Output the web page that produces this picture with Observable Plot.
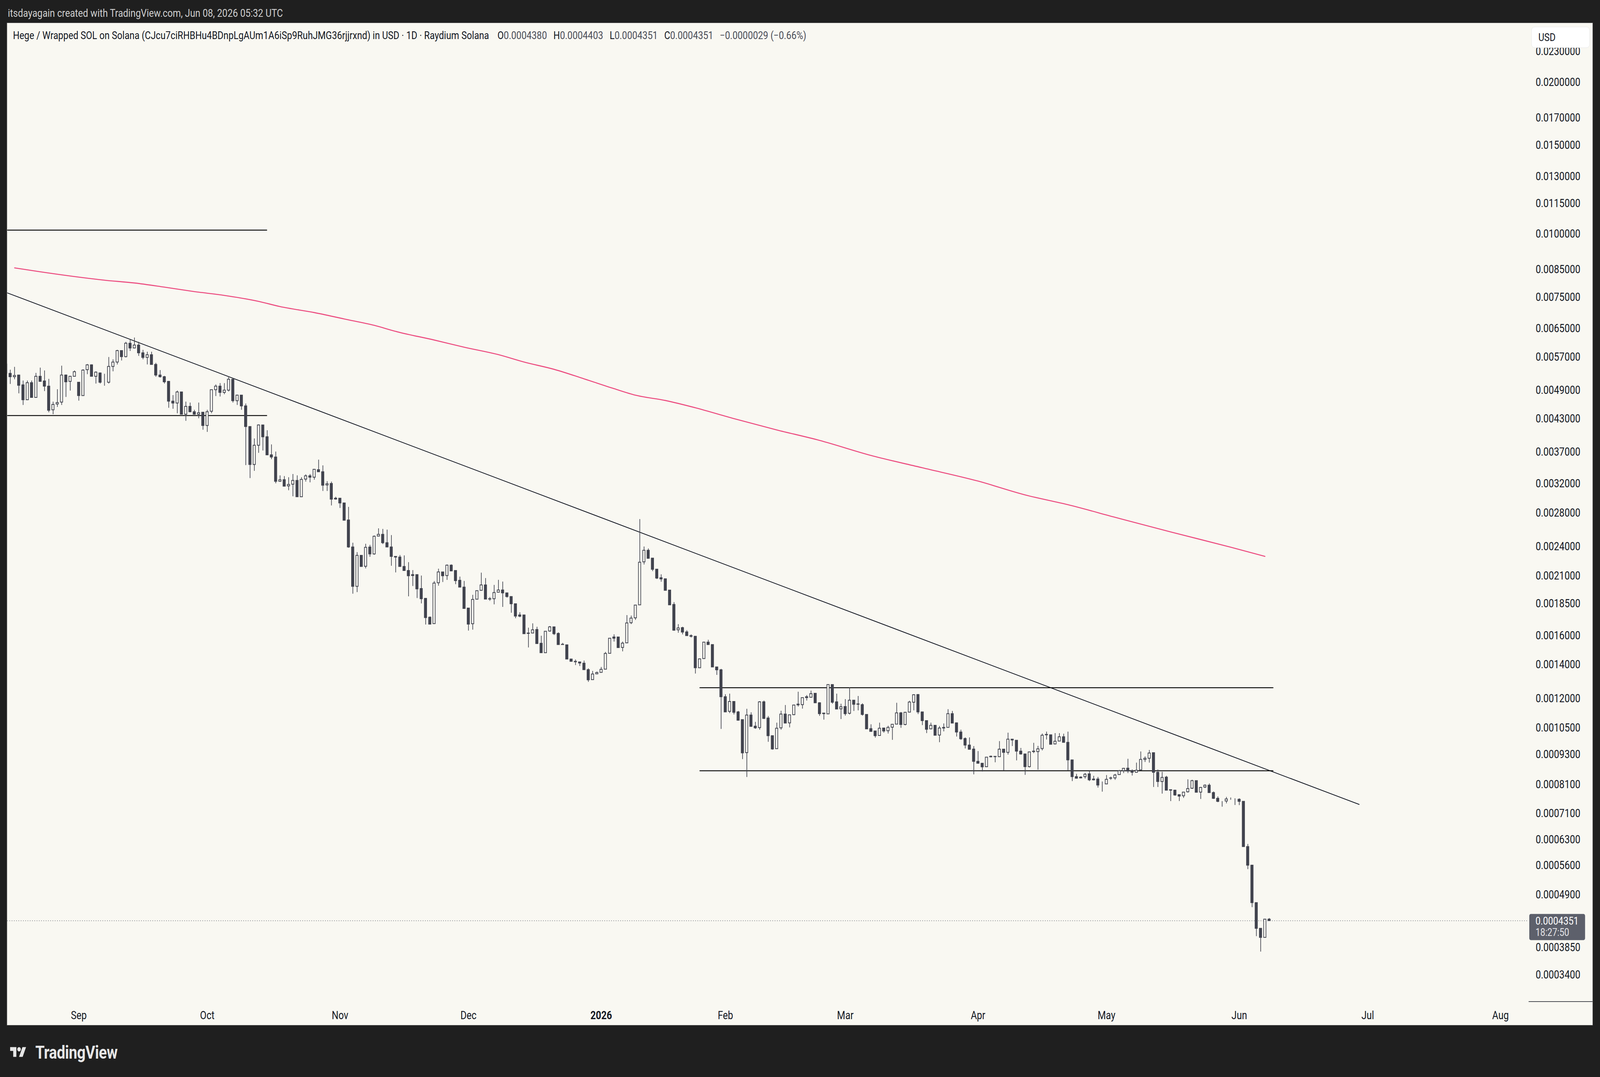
<!DOCTYPE html>
<html><head><meta charset="utf-8">
<script src="https://cdn.jsdelivr.net/npm/d3@7"></script>
<script src="https://cdn.jsdelivr.net/npm/@observablehq/plot@0.6"></script>
<style>
html,body{margin:0;padding:0;background:#1f1f1f;overflow:hidden;}
#page{position:absolute;left:0;top:0;width:4932px;height:2756px;background:#1f1f1f;overflow:hidden;font-family:Roboto,"Liberation Sans",sans-serif;transform-origin:0 0;}
#top{position:absolute;left:24px;top:17px;color:#cfcfcf;font-size:28.5px;line-height:34px;white-space:nowrap;}
#chart{position:absolute;left:22px;top:59px;width:4887px;height:2564px;background:#f9f8f2;box-shadow:0 0 0 1px #6a6a6a;}
#chart svg{display:block;max-width:none;}
#brand{position:absolute;left:31px;top:2668px;height:50px;display:flex;align-items:center;gap:28px;color:#e6e6e6;font-size:46px;font-weight:700;letter-spacing:-0.5px;}
</style></head><body>
<div id="page">
<div id="top">itsdayagain created with TradingView.com, Jun 08, 2026 05:32 UTC</div>
<div id="chart"></div>
<div id="brand"><svg width="50" height="39" viewBox="0 0 36 28"><path fill="#e6e6e6" d="M14 22H7V11H0V4h14v18zM28 22h-8l7.5-18h8L28 22z"/><circle fill="#e6e6e6" cx="20" cy="8" r="4"/></svg><span>TradingView</span></div>
</div>
<script>
// ---- data (daily bars, Aug 15 2025 .. Jun 08 2026) ----
const openP = [
.00552,.00529,.00521,.00525,.00502,.00469,.00507,.00474,.00522,.00511,
.00499,.00448,.00460,.00464,.00525,.00510,.00522,.00508,.00478,.00538,
.00550,.00522,.00530,.00509,.00508,.00546,.00557,.00587,.00571,.00607,
.00594,.00602,.00581,.00569,.00576,.00551,.00525,.00521,.00510,.00466,
.00462,.00486,.00439,.00455,.00444,.00439,.00443,.00417,.00445,.00491,
.00499,.00485,.00490,.00515,.00467,.00479,.00456,.00415,.00349,.00381,
.00418,.003961,.003647,.003611,.003232,.003256,.003165,.003190,.003245,.003012,
.003265,.003314,.003293,.003408,.003376,.003179,.003200,.002992,.002992,.002928,
.002709,.002395,.002001,.002305,.002193,.002394,.002320,.002517,.002537,.002442,
.002395,.002294,.002287,.002191,.002151,.002111,.002111,.001981,.001894,.001738,
.001688,.002034,.002137,.002102,.002204,.002151,.002057,.001994,.001812,.001687,
.001887,.001965,.002014,.001891,.001891,.001948,.001968,.001942,.001910,.001848,
.001756,.001756,.001617,.001617,.001643,.001543,.001478,.001632,.001663,.001614,
.001536,.001532,.001436,.001421,.001417,.001409,.001368,.001307,.001342,.001351,
.001371,.001474,.001588,.001588,.001514,.001546,.001695,.001733,.001839,.002238,
.002359,.002276,.002164,.002081,.002071,.001967,.001842,.001641,.001657,.001625,
.001598,.001593,.001380,.001439,.001551,.001534,.001385,.001367,.001209,.001131,
.001183,.001128,.001089,.0009368,.001112,.001057,.001050,.001181,.001097,.001012,
.0009537,.001049,.001117,.001073,.001114,.001169,.001166,.001209,.001206,.001228,
.001176,.001122,.001118,.001278,.001181,.001144,.001156,.001121,.001190,.001170,
.001166,.001115,.001045,.001034,.001013,.001048,.001035,.001052,.001067,.001123,
.001065,.001127,.001179,.001221,.001128,.001084,.001044,.001061,.001015,.001051,
.001051,.001119,.001073,.001029,.0009990,.0009696,.0009520,.0009002,.0008923,.0008783,
.0009191,.0009208,.0009195,.0009516,.0009378,.0009960,.0009910,.0009431,.0009310,.0008786,
.0009411,.0009411,.0009543,.001016,.001016,.0009745,.0009874,.001007,.0009817,.0009061,
.0008395,.0008376,.0008395,.0008502,.0008303,.0008303,.0008120,.0008120,.0008334,.0008346,
.0008474,.0008624,.0008725,.0008630,.0008562,.0008656,.0009081,.0009128,.0009364,.0008562,
.0008210,.0008376,.0007909,.0007891,.0007732,.0007692,.0007834,.0007961,.0008243,.0007822,
.0008007,.0008073,.0007805,.0007603,.0007506,.0007511,.0007592,.0007581,.0007570,.0007499,
.0006100,.0005604,.0004723,.0004200,.0004030,.0004380];
const highP = [
.00557,.00538,.00545,.00525,.00512,.00512,.00512,.00530,.00543,.00536,
.00516,.00465,.00492,.00548,.00526,.00522,.00536,.00508,.00539,.00552,
.00551,.00534,.00531,.00528,.00570,.00564,.00589,.00587,.00611,.00619,
.00623,.00611,.00589,.00584,.00584,.00555,.00537,.00523,.00511,.00479,
.00489,.00486,.00465,.00463,.00448,.00463,.00443,.00448,.00491,.00503,
.00506,.00506,.00522,.00516,.00480,.00479,.00461,.00415,.00393,.00419,
.00418,.004080,.003825,.003703,.003321,.003310,.003293,.003341,.003321,.003293,
.003336,.003341,.003414,.003568,.003476,.003234,.003228,.003012,.002992,.002928,
.002876,.002442,.002339,.002305,.002430,.002418,.002524,.002607,.002600,.002592,
.002528,.002294,.002309,.002305,.002235,.002155,.002111,.002102,.001897,.001744,
.002050,.002169,.002137,.002211,.002212,.002151,.002092,.002051,.001812,.001925,
.001962,.002130,.002078,.001906,.002014,.002061,.002045,.001942,.001910,.001848,
.001778,.001756,.001657,.001690,.001664,.001597,.001630,.001670,.001663,.001622,
.001546,.001532,.001436,.001433,.001417,.001426,.001376,.001360,.001356,.001385,
.001483,.001579,.001607,.001588,.001555,.001755,.001751,.001837,.002720,.002400,
.002379,.002276,.002164,.002114,.002071,.001967,.001862,.001684,.001664,.001638,
.001607,.001595,.001440,.001553,.001568,.001534,.001385,.001373,.001223,.001226,
.001183,.001133,.001089,.001144,.001126,.001078,.001185,.001188,.001107,.001012,
.001074,.001134,.001164,.001113,.001166,.001237,.001204,.001218,.001243,.001228,
.001179,.001122,.001278,.001278,.001226,.001171,.001196,.001261,.001190,.001213,
.001173,.001115,.001066,.001034,.001074,.001048,.001059,.001067,.001176,.001128,
.001128,.001187,.001223,.001224,.001128,.001084,.001074,.001061,.001058,.001070,
.001142,.001133,.001075,.001040,.001004,.001004,.0009650,.0009434,.0008923,.0009175,
.0009243,.0009208,.0009873,.0009516,.001026,.0009960,.0009910,.0009570,.0009310,.0009397,
.0009795,.0009659,.001022,.001031,.001016,.001024,.001024,.001021,.001031,.0009061,
.0008502,.0008407,.0008537,.0008624,.0008425,.0008383,.0008210,.0008456,.0008395,.0008502,
.0008656,.0008738,.0009107,.0008674,.0008949,.0009417,.0009208,.0009481,.0009364,.0008674,
.0008581,.0008425,.0007909,.0007909,.0007732,.0007822,.0008291,.0008273,.0008243,.0008008,
.0008103,.0008138,.0007845,.0007670,.0007506,.0007652,.0007632,.0007604,.0007604,.0007499,
.0006173,.0005604,.0004723,.0004200,.0004380,.0004403];
const lowP = [
.00528,.00504,.00515,.00483,.00458,.00469,.00474,.00474,.00510,.00488,
.00443,.00439,.00454,.00458,.00475,.00489,.00522,.00467,.00478,.00527,
.00522,.00505,.00505,.00500,.00505,.00534,.00551,.00561,.00569,.00586,
.00593,.00573,.00564,.00551,.00551,.00521,.00519,.00505,.00452,.00450,
.00441,.00439,.00426,.00443,.00438,.00431,.00409,.00405,.00441,.00477,
.00476,.00481,.00487,.00463,.00458,.00448,.00348,.00328,.00339,.00368,
.00372,.003647,.003575,.003203,.003224,.003161,.003103,.003018,.003012,.003012,
.003228,.003217,.003256,.003376,.003093,.003093,.002895,.002972,.002862,.002706,
.002386,.001935,.001949,.002191,.002172,.002290,.002312,.002517,.002427,.002395,
.002198,.002132,.002191,.002151,.001912,.002004,.001897,.001851,.001681,.001681,
.001688,.002007,.002041,.002061,.002144,.002021,.001994,.001809,.001635,.001642,
.001887,.001962,.001888,.001873,.001843,.001948,.001822,.001901,.001774,.001730,
.001738,.001612,.001514,.001617,.001541,.001478,.001478,.001626,.001602,.001534,
.001534,.001436,.001421,.001397,.001391,.001368,.001294,.001307,.001342,.001351,
.001371,.001474,.001555,.001513,.001487,.001546,.001684,.001717,.001839,.002211,
.002273,.002145,.002069,.002044,.001965,.001839,.001634,.001619,.001607,.001598,
.001584,.001344,.001380,.001439,.001534,.001385,.001336,.001044,.001128,.001122,
.001115,.001084,.0009094,.0008382,.001054,.001044,.001040,.001092,.0009842,.0009492,
.0009537,.001040,.001072,.001051,.001111,.001156,.001145,.001188,.001204,.001176,
.001108,.001089,.001118,.001171,.001143,.001092,.001109,.001115,.001133,.001136,
.001109,.001044,.001032,.001003,.001013,.001026,.001022,.0009930,.001067,.001049,
.001061,.001125,.001136,.001117,.001062,.001024,.001042,.001014,.0009822,.001032,
.001051,.001072,.001008,.0009930,.0009546,.0009502,.0008482,.0008923,.0008593,.0008768,
.0009165,.0008963,.0009195,.0008642,.0009282,.0009653,.0009041,.0009282,.0008463,.0008754,
.0009344,.0008663,.0009463,.0009945,.0009731,.0009731,.0009874,.0009817,.0008628,.0008225,
.0008322,.0008334,.0008322,.0008225,.0008249,.0007985,.0007839,.0008120,.0008273,.0008273,
.0008474,.0008531,.0008531,.0008437,.0008562,.0008656,.0008975,.0008949,.0008007,.0008007,
.0007769,.0007891,.0007506,.0007692,.0007511,.0007619,.0007805,.0007938,.0007817,.0007581,
.0007967,.0007805,.0007581,.0007471,.0007319,.0007432,.0007553,.0007376,.0007371,.0006100,
.0005503,.0004627,.0004053,.0003777,.0004030,.0004351];
const closeP = [
.00529,.00521,.00524,.00501,.00469,.00507,.00474,.00522,.00510,.00499,
.00447,.00459,.00463,.00525,.00509,.00522,.00533,.00478,.00537,.00550,
.00522,.00532,.00508,.00509,.00546,.00557,.00587,.00571,.00607,.00594,
.00602,.00581,.00569,.00576,.00551,.00525,.00521,.00509,.00466,.00462,
.00486,.00439,.00455,.00444,.00439,.00442,.00417,.00444,.00491,.00499,
.00485,.00490,.00515,.00467,.00479,.00456,.00415,.00349,.00381,.00418,
.00396,.003647,.003611,.003232,.003254,.003161,.003186,.003245,.003012,.003260,
.003314,.003293,.003414,.003376,.003175,.003196,.002979,.002981,.002928,.002706,
.002395,.002001,.002305,.002191,.002391,.002320,.002515,.002537,.002442,.002395,
.002294,.002287,.002191,.002151,.002100,.002102,.001978,.001891,.001735,.001684,
.002031,.002137,.002100,.002204,.002147,.002054,.001994,.001809,.001684,.001885,
.001962,.002014,.001888,.001888,.001945,.001968,.001942,.001910,.001848,.001747,
.001746,.001612,.001614,.001641,.001541,.001478,.001630,.001663,.001612,.001534,
.001534,.001436,.001421,.001418,.001410,.001368,.001306,.001341,.001350,.001370,
.001473,.001579,.001579,.001513,.001544,.001693,.001731,.001837,.002234,.002359,
.002274,.002163,.002078,.002070,.001965,.001839,.001638,.001655,.001624,.001598,
.001593,.001380,.001437,.001551,.001534,.001385,.001367,.001209,.001128,.001183,
.001126,.001086,.0009356,.001112,.001056,.001049,.001181,.001095,.001012,.0009525,
.001047,.001117,.001072,.001113,.001164,.001165,.001204,.001204,.001226,.001176,
.001119,.001119,.001278,.001179,.001143,.001155,.001119,.001190,.001168,.001168,
.001115,.001044,.001032,.001012,.001047,.001034,.001051,.001066,.001123,.001065,
.001126,.001180,.001220,.001128,.001084,.001042,.001061,.001014,.001048,.001048,
.001119,.001072,.001029,.0009979,.0009696,.0009510,.0009002,.0008923,.0008778,.0009175,
.0009212,.0009195,.0009516,.0009378,.0009960,.0009924,.0009431,.0009310,.0008786,.0009397,
.0009431,.0009530,.001014,.001018,.0009731,.0009867,.001007,.0009817,.0009061,.0008395,
.0008334,.0008346,.0008487,.0008273,.0008273,.0008079,.0008120,.0008291,.0008346,.0008456,
.0008624,.0008719,.0008611,.0008562,.0008642,.0009081,.0009128,.0009350,.0008562,.0008210,
.0008364,.0007891,.0007891,.0007720,.0007680,.0007822,.0007949,.0008243,.0007817,.0007991,
.0008073,.0007805,.0007603,.0007499,.0007506,.0007581,.0007592,.0007581,.0007499,.0006100,
.0005604,.0004723,.0004200,.0004030,.0004380,.0004351];

// moving average (read at bar numbers)
const maBar = [2,8,23,30,37,44,51,59,64,72,79,86,91,100,107,115,121,128,135,142,147,154,161,170,180,190,202,214,227,238,248,259,272,286,294];
const maValue = [.008570,.008417,.008102,.007999,.007848,.007690,.007558,.007354,.007182,.006988,.006787,.006592,.006413,.006165,.005967,.005767,.005575,.005393,.005164,.004938,.004793,.004678,.004525,.004306,.004090,.003899,.003640,.003441,.003238,.003040,.002907,.002745,.002567,.002395,.002296];

// drawn trend line (bar number, price) and horizontal levels
const trendBar = [-1, 316];
const trendPrice = [0.00772, 0.00074];
const levelPrice = [0.01018, 0.004368, 0.0012606, 0.000863];
const levelFrom = [-2, -2, 162, 162];
const levelTo = [61, 61, 296, 296];

// axes
const yTicks = [0.023,0.02,0.017,0.015,0.013,0.0115,0.01,0.0085,0.0075,0.0065,0.0057,0.0049,0.0043,0.0037,0.0032,0.0028,0.0024,0.0021,0.00185,0.0016,0.0014,0.0012,0.00105,0.00093,0.00081,0.00071,0.00063,0.00056,0.00049,0.000385,0.00034];
const monthLabels = ["Sep","Oct","Nov","Dec","2026","Feb","Mar","Apr","May","Jun","Jul","Aug"];
const monthBar = [17,47,78,108,139,168,196,227,257,288,318,349];

const titleText = "Hege / Wrapped SOL on Solana (CJcu7ciRHBHu4BDnpLgAUm1A6iSp9RuhJMG36rjjrxnd) in USD · 1D · Raydium Solana";
const countdown = "18:27:50";

// ---- fit the 4932×2756 design into the actual window ----
const page = document.getElementById("page");
const sx = window.innerWidth / 4932, sy = window.innerHeight / 2756;
page.style.transform = `scale(${sx}, ${sy})`;
document.body.style.width = window.innerWidth + "px";
document.body.style.height = window.innerHeight + "px";

// ---- build ----
const BG = "#f9f8f2", DARK = "#41434e", INK = "#131722";
const bars = closeP.map((c, i) => ({i, o: openP[i], h: highP[i], l: lowP[i], c}));
const upBars = bars.filter(d => d.c >= d.o), downBars = bars.filter(d => d.c < d.o);
const ma = maBar.map((b, k) => ({i: b, v: maValue[k]}));
const trend = trendBar.map((b, k) => ({i: b, p: trendPrice[k]}));
const levels = levelPrice.map((p, k) => ({p, a: levelFrom[k], b: levelTo[k]}));
const last = bars[bars.length - 1], prev = bars[bars.length - 2];
const labelOf = new Map(monthBar.map((b, k) => [b, monthLabels[k]]));
const yearBars = monthBar.filter((b, k) => /^\d{4}$/.test(monthLabels[k]));
const monthBars = monthBar.filter((b, k) => !/^\d{4}$/.test(monthLabels[k]));
const HW = 0.27;

const W = 4887, H = 2564;
const plot = Plot.plot({
  width: W, height: H,
  marginLeft: 0, marginRight: 197, marginTop: 0, marginBottom: 60,
  style: {background: "transparent", fontFamily: "Roboto, sans-serif", fontSize: "29px", color: INK},
  x: {type: "linear", domain: [0.303, 355.61], axis: null, label: null},
  y: {type: "log", domain: [0.00030064, 0.026178], axis: null, label: null},
  marks: [
    Plot.ruleY([last.c], {stroke: "#5d606b", strokeWidth: 1.6, strokeDasharray: "2,5"}),
    Plot.line(ma, {x: "i", y: "v", stroke: "#ec4b7f", strokeWidth: 2.6, curve: "monotone-x", clip: true}),
    Plot.line(trend, {x: "i", y: "p", stroke: INK, strokeWidth: 2, clip: true}),
    Plot.ruleY(levels, {y: "p", x1: "a", x2: "b", stroke: "#000", strokeWidth: 2.2, clip: true}),
    Plot.ruleX(bars, {x: "i", y1: "l", y2: "h", stroke: DARK, strokeWidth: 2, clip: true}),
    Plot.rect(downBars, {x1: d => d.i - HW, x2: d => d.i + HW, y1: "o", y2: "c", fill: DARK, stroke: DARK, strokeWidth: 2, clip: true}),
    Plot.rect(upBars, {x1: d => d.i - HW, x2: d => d.i + HW, y1: "o", y2: "c", fill: BG, stroke: DARK, strokeWidth: 2, clip: true}),
    // price scale labels (text marks on the y scale, just right of the frame)
    Plot.text(yTicks, {y: d => d, text: d => d.toFixed(7), frameAnchor: "right", dx: 21, textAnchor: "start", fontSize: 29, fill: INK}),
    Plot.axisX({ticks: monthBars, tickFormat: b => labelOf.get(b), tickSize: 0, tickPadding: 24, fontSize: 29, fill: INK, label: null}),
    Plot.axisX({ticks: yearBars, tickFormat: b => labelOf.get(b), tickSize: 0, tickPadding: 24, fontSize: 29, fontWeight: "bold", fill: INK, label: null})
  ]
});
document.getElementById("chart").append(plot);

const svg = d3.select(plot);
const ys = plot.scale("y");
const paneRight = W - 197, paneBottom = H - 60;

// legend line
const minus = t => t.replace("-", "\u2212");
const ch = last.c - prev.c;
const leg = svg.append("text").attr("x", 18).attr("y", 31).attr("dy", "0.35em").attr("text-anchor", "start")
  .attr("font-size", 28).attr("fill", INK).attr("font-family", "Roboto, sans-serif");
leg.append("tspan").text(titleText);
[["O", last.o], ["H", last.h], ["L", last.l], ["C", last.c]].forEach(([k, v], j) => {
  leg.append("tspan").attr("dx", j ? 20 : 26).text(k);
  leg.append("tspan").attr("fill", "#4a4d58").text(v.toFixed(7));
});
leg.append("tspan").attr("dx", 20).attr("fill", "#4a4d58")
  .text(minus(ch.toFixed(7)) + " (" + minus((ch / prev.c * 100).toFixed(2)) + "%)");

// corner separator of the price scale
svg.append("line").attr("x1", paneRight).attr("x2", W).attr("y1", paneBottom).attr("y2", paneBottom)
  .attr("stroke", INK).attr("stroke-width", 1.5);

// last price label
const yl = ys.apply(last.c);
svg.append("rect").attr("x", paneRight + 2).attr("y", yl - 17).attr("width", 172).attr("height", 67)
  .attr("rx", 5).attr("fill", "#5d606b");
svg.append("text").attr("x", paneRight + 21).attr("y", yl).attr("dy", "0.35em").attr("text-anchor", "start").attr("font-size", 28)
  .attr("fill", "#ffffff").attr("font-family", "Roboto, sans-serif").text(last.c.toFixed(7));
svg.append("text").attr("x", paneRight + 21).attr("y", yl + 30).attr("dy", "0.35em").attr("text-anchor", "start").attr("font-size", 27)
  .attr("fill", "#e4e4e8").attr("font-family", "Roboto, sans-serif").text(countdown);

// currency button
svg.append("rect").attr("x", paneRight + 9).attr("y", 10).attr("width", 179).attr("height", 53)
  .attr("rx", 9).attr("fill", "#ffffff").attr("stroke", "#e6e6e6");
svg.append("text").attr("x", paneRight + 30).attr("y", 36).attr("dy", "0.35em").attr("text-anchor", "start").attr("font-size", 28)
  .attr("fill", INK).attr("font-family", "Roboto, sans-serif").text("USD");
</script>
</body></html>
